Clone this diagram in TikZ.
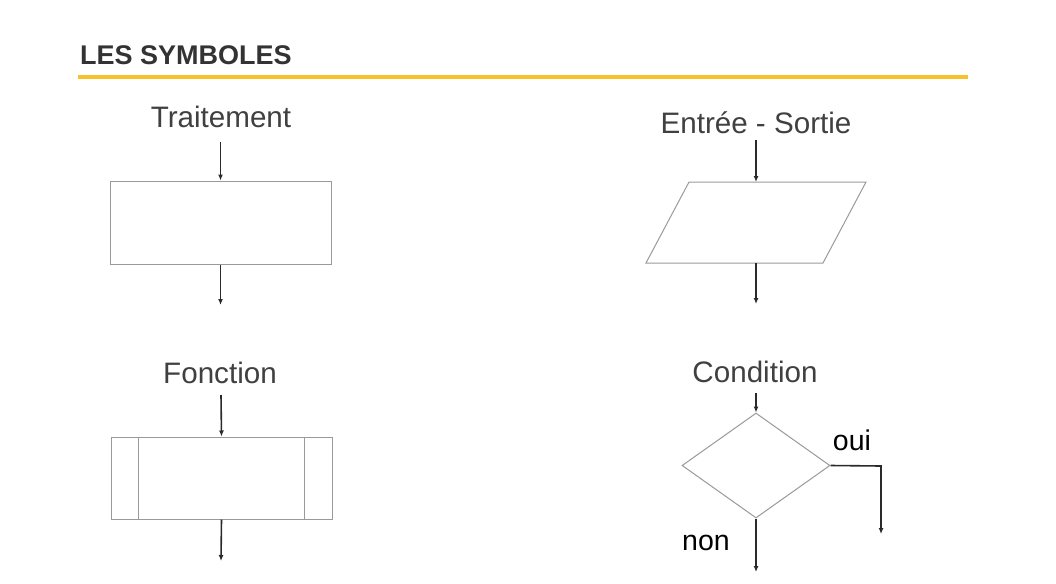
\documentclass[tikz,border=0pt]{standalone}
\usepackage{fontspec}
\setmainfont{Liberation Sans}
\usetikzlibrary{arrows.meta,shapes.geometric}
\definecolor{txt}{HTML}{404040}
\definecolor{ttl}{HTML}{333333}
\definecolor{bar}{HTML}{F6C12A}
\definecolor{shp}{HTML}{9A9A9A}
\definecolor{arr}{HTML}{2A2A2A}
\begin{document}
\begin{tikzpicture}[x=1pt,y=-1pt,
  lbl/.style={font=\fontsize{29.6}{32}\selectfont, text=txt, anchor=base, inner sep=0pt},
  yn/.style={font=\fontsize{28.5}{31}\selectfont, text=black, anchor=base, inner sep=0pt},
  shapebox/.style={draw=shp, line width=1pt, rectangle, inner sep=0pt},
  flow/.style={draw=arr, line width=1.6pt, -{Latex[length=6pt,width=5pt]}}]
\useasboundingbox[fill=white] (0,0) rectangle (1056,583);
% title
\node[anchor=base west, inner sep=0pt, text=ttl, font=\fontsize{27}{29}\selectfont\bfseries] (title) at (80,65) {LES SYMBOLES};
\coordinate (barL) at (78,77);
\coordinate (barR) at (968,77);
\draw[bar, line width=3.2pt] (barL) -- (barR);

% Traitement
\node[lbl] (t1) at (221,128) {Traitement};
\coordinate (t1in) at (220.5,142);
\node[shapebox, minimum width=221pt, minimum height=83pt] (b1) at (220.5,222.5) {};
\coordinate (t1out) at (220.5,305);
\draw[flow] (t1in) -- (b1.north);
\draw[flow] (b1.south) -- (t1out);

% Entree - Sortie
\node[lbl] (t2) at (756,133) {Entrée - Sortie};
\coordinate (t2in) at (756,140);
\coordinate (pTL) at (689,182);
\coordinate (pTR) at (866,182);
\coordinate (pBR) at (823,263);
\coordinate (pBL) at (646,263);
\coordinate (pTop) at (756,182);
\coordinate (pBot) at (756,263);
\draw[draw=shp, line width=1pt] (pTL) -- (pTR) -- (pBR) -- (pBL) -- cycle;
\coordinate (t2out) at (756,304);
\draw[flow] (t2in) -- (pTop);
\draw[flow] (pBot) -- (t2out);

% Fonction
\node[lbl] (t3) at (220,383) {Fonction};
\coordinate (t3in) at (221,395);
\node[shapebox, minimum width=221pt, minimum height=82pt] (b3) at (221.5,478) {};
\coordinate (f1t) at (138,437);
\coordinate (f1b) at (138,519);
\coordinate (f2t) at (304,437);
\coordinate (f2b) at (304,519);
\draw[draw=shp, line width=1pt] (f1t) -- (f1b) (f2t) -- (f2b);
\coordinate (t3out) at (221,561);
\draw[flow] (t3in) -- (b3.north);
\draw[flow] (b3.south) -- (t3out);

% Condition
\node[lbl] (t4) at (755,382) {Condition};
\coordinate (t4in) at (756,393);
\node[draw=shp, line width=1pt, diamond, aspect=1.42, minimum width=148pt, minimum height=105pt, inner sep=0pt] (d4) at (756,465.5) {};
\coordinate (ouiC) at (881,466);
\coordinate (ouiEnd) at (881,534);
\coordinate (nonEnd) at (756,572);
\draw[flow] (t4in) -- (d4.north);
\draw[flow] (d4.east) -- (ouiC) -- (ouiEnd);
\draw[flow] (d4.south) -- (nonEnd);
\node[yn] (oui) at (852,450) {oui};
\node[yn] (non) at (706,550) {non};
\end{tikzpicture}
\end{document}
